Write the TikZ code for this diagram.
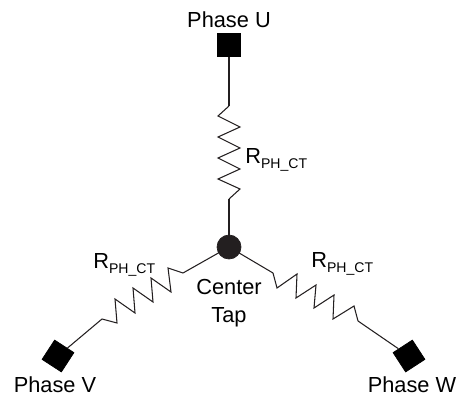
\documentclass[tikz,border=0pt]{standalone}
\usepackage{fontspec}
\setmainfont{Liberation Sans}
\usepackage{tikz}
\usetikzlibrary{positioning}
\definecolor{tapdark}{HTML}{231F20}
\newcommand{\rphct}{R\raisebox{-0.24em}{\fontsize{8}{8}\selectfont PH\_CT}}
\begin{document}
\begin{tikzpicture}[x=0.02cm, y=-0.02cm,
    terminal/.style={draw=black, fill=black, rectangle, minimum size=0.46cm, inner sep=0pt},
    center tap/.style={draw=tapdark, fill=tapdark, circle, minimum size=0.48cm, inner sep=0pt},
    label/.style={font=\fontsize{12.4}{15.8}\selectfont, inner sep=0pt, text=black},
    wire/.style={draw=tapdark, line width=0.6pt, line join=miter}
]
    \useasboundingbox (0,0) rectangle (459,395);

    % Nodes
    \node[terminal] (phaseU) at (229,45) {};
    \node[terminal, rotate=-33] (phaseV) at (58,356) {};
    \node[terminal, rotate=33] (phaseW) at (409,356) {};

    \coordinate (resUtop) at (229,106);
    \coordinate (resUbot) at (229,199);
    \coordinate (resVout) at (102,319);
    \coordinate (resVin) at (183,273);
    \coordinate (resWin) at (273,273);
    \coordinate (resWout) at (358,321);
    \coordinate (tap) at (229,247);

    % Lines
    \draw[wire] (phaseU) -- (resUtop);
    \draw[wire] (resUbot) -- (tap);
    \draw[wire] (phaseV) -- (resVout);
    \draw[wire] (resVin) -- (tap);
    \draw[wire] (tap) -- (resWin);
    \draw[wire] (resWout) -- (phaseW);

    % Resistors
    \draw[wire] (resUtop) -- (218,116) -- (240,127) -- (218,137) -- (240,148) -- (218,158)
        -- (240,169) -- (218,179) -- (240,189) -- (resUbot);
    \draw[wire] (resVout) -- (117,323) -- (115,299) -- (135,313) -- (133,288) -- (153,302)
        -- (151,278) -- (171,292) -- (168,268) -- (resVin);
    \draw[wire] (resWin) -- (277,288) -- (297,274) -- (296,298) -- (316,285) -- (314,308)
        -- (334,295) -- (333,319) -- (354,306) -- (resWout);

    \node[center tap] (centertap) at (tap) {};

    % Labels
    \node[label] (labelU) at (229,20) {Phase U};
    \node[label] (labelV) at (55,385) {Phase V};
    \node[label] (labelW) at (412,385) {Phase W};
    \node[label, align=center] (labelTap) at (229,303) {Center\\Tap};
    \node[label, anchor=base west] (labelRU) at (245,163) {\rphct};
    \node[label, anchor=base west] (labelRV) at (93,268) {\rphct};
    \node[label, anchor=base west] (labelRW) at (311,267) {\rphct};
\end{tikzpicture}
\end{document}
